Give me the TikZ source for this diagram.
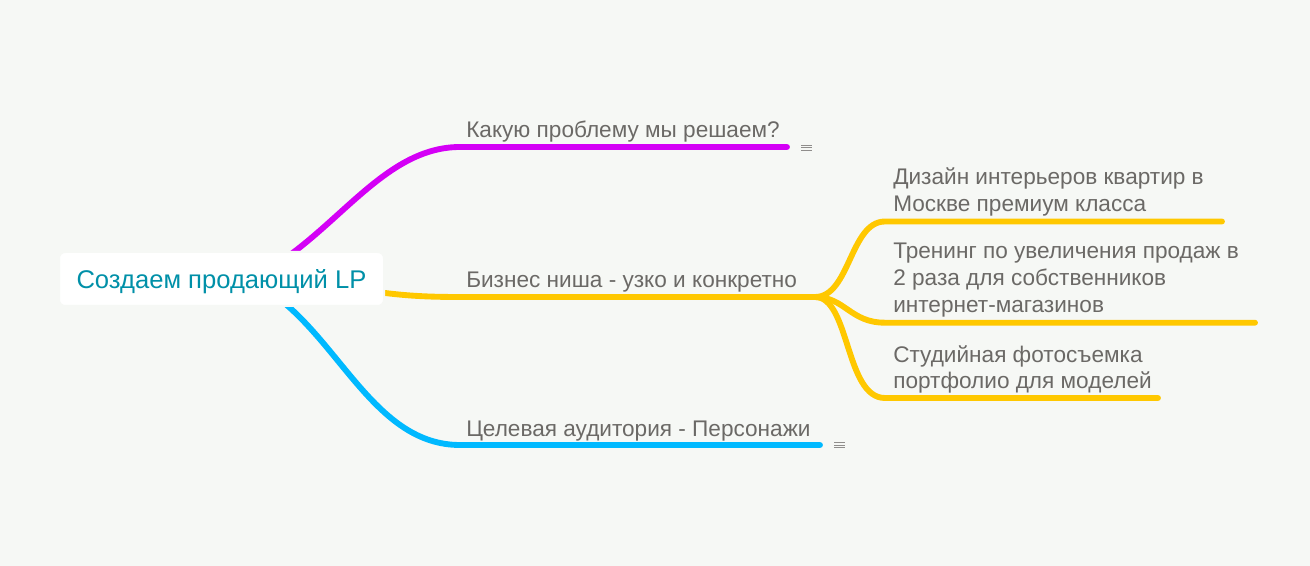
\documentclass[tikz,border=0pt]{standalone}
\usepackage{fontspec}
\setmainfont{Liberation Sans}
\definecolor{bgc}{HTML}{F6F8F5}
\definecolor{txt}{HTML}{6B6966}
\definecolor{roottxt}{HTML}{0090A8}
\definecolor{mag}{HTML}{D400F6}
\definecolor{yel}{HTML}{FFC800}
\definecolor{blu}{HTML}{00B9FF}
\tikzset{
  branch/.style={line width=4.4pt,line cap=round},
  topic/.style={inner sep=0pt,anchor=base west,text=txt,font=\fontsize{16.95pt}{20.25pt}\selectfont,align=left},
  rootbox/.style={fill=white,draw=bgc,line width=1.5pt,rounded corners=4.5pt,minimum width=243.75pt,minimum height=40.5pt,inner sep=0pt,text=roottxt,font=\fontsize{19.2pt}{21pt}\selectfont},
  menuline/.style={line width=0.75pt,draw=txt!75}
}
\begin{document}
\begin{tikzpicture}[x=0.75pt,y=-0.75pt]
\useasboundingbox[fill=bgc] (0,0) rectangle (1310,566);
% anchors
\coordinate (c1s) at (280,262); \coordinate (c1a) at (460,147); \coordinate (c1b) at (787,147);
\coordinate (c2s) at (385,293); \coordinate (c2a) at (460,297); \coordinate (hub) at (815,297);
\coordinate (c3s) at (270,292); \coordinate (c3a) at (460,445); \coordinate (c3b) at (820,445);
\coordinate (d1a) at (885,221.5); \coordinate (d1b) at (1222,221.5);
\coordinate (d2a) at (885,322.7); \coordinate (d2b) at (1255,322.7);
\coordinate (d3a) at (885,398); \coordinate (d3b) at (1158,398);
% branches
\draw[branch,mag] (c1s) .. controls (345,218) and (390,147) .. (c1a) -- (c1b);
\draw[branch,blu] (c3s) .. controls (340,340) and (375,445) .. (c3a) -- (c3b);
\draw[branch,yel] (c2s) .. controls (410,296) and (430,297) .. (c2a) -- (hub);
\draw[branch,yel] (hub) .. controls (850,297) and (850,221.5) .. (d1a) -- (d1b);
\draw[branch,yel] (hub) .. controls (845,297) and (850,322.7) .. (d2a) -- (d2b);
\draw[branch,yel] (hub) .. controls (850,297) and (845,398) .. (d3a) -- (d3b);
% root
\node[rootbox] (root) at (221.5,279) {\raisebox{-7.2pt}[0pt][0pt]{Создаем продающий LP}};
% topics
\node[topic] (t1) at (466,138) {Какую проблему мы решаем?};
\node[topic] (t2) at (466,288) {Бизнес ниша - узко и конкретно};
\node[topic] (t3) at (466,436) {Целевая аудитория - Персонажи};
\node[topic] (s1) at (893,212) {Дизайн интерьеров квартир в\\Москве премиум класса};
\node[topic] (s2) at (893,313) {Тренинг по увеличения продаж в\\2 раза для собственников\\интернет-магазинов};
\node[topic] (s3) at (893,389) {Студийная фотосъемка\\портфолио для моделей};
% note icons
\foreach \yy in {145.5,148,150.5} \draw[menuline] (801,\yy) -- (812,\yy);
\foreach \yy in {442.5,445,447.5} \draw[menuline] (834,\yy) -- (845,\yy);
\end{tikzpicture}
\end{document}
